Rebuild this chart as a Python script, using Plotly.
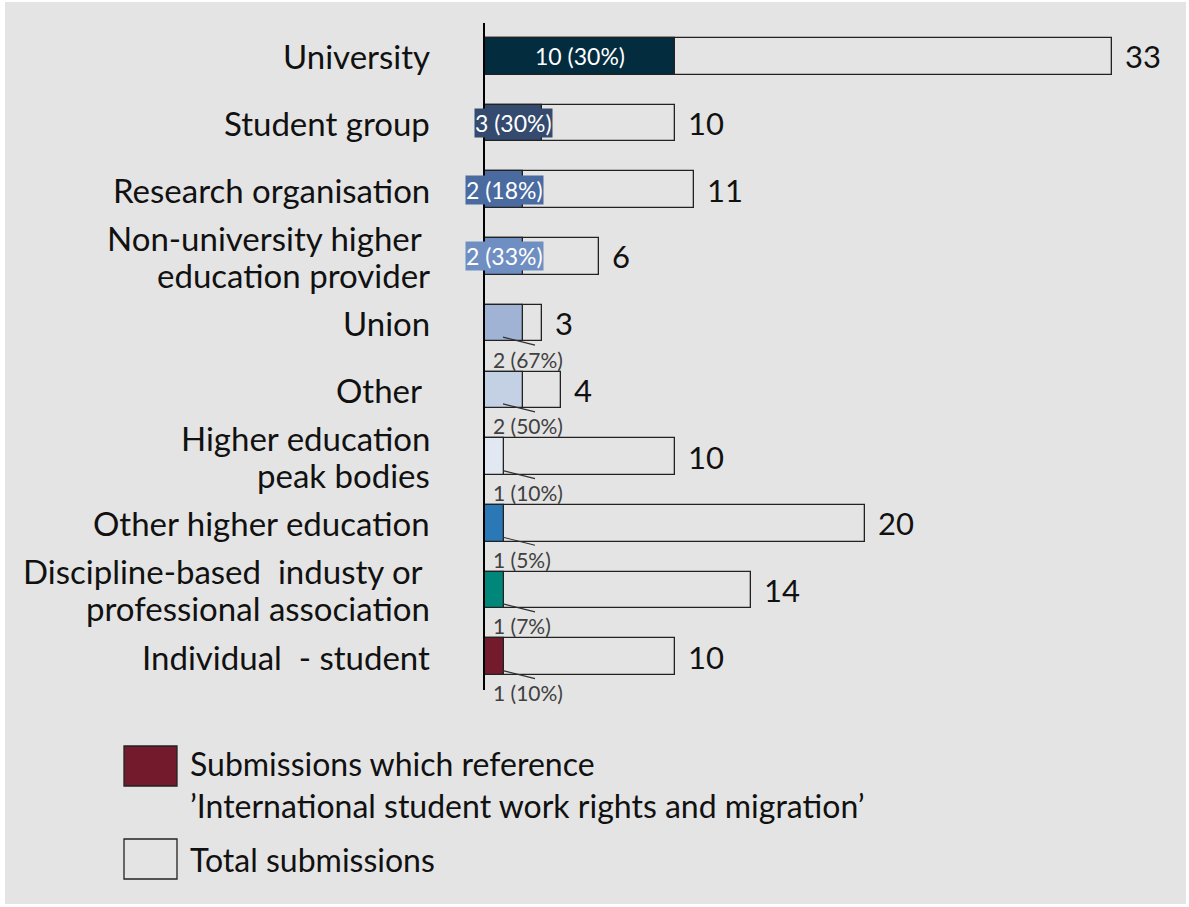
import plotly.graph_objects as go

# ---- data -------------------------------------------------------------
categories = [
    "University",
    "Student group",
    "Research organisation",
    "Non-university higher <br>education provider",
    "Union",
    "Other ",
    "Higher education<br>peak bodies",
    "Other higher education",
    "Discipline-based  industy or <br>professional association",
    "Individual  - student",
]
total_submissions = [33, 10, 11, 6, 3, 4, 10, 20, 14, 10]
work_rights_submissions = [10, 3, 2, 2, 2, 2, 1, 1, 1, 1]
bar_colors = [
    "#032c3f", "#344a6e", "#4a6ba0", "#6f8fc2", "#a0b3d4",
    "#c4d0e4", "#e2e8f2", "#2a78b5", "#01877a", "#741a2d",
]
# label style per category: "inside" (in the bar), "box" (filled tag), "below"
label_style = ["inside", "box", "box", "box", "below",
               "below", "below", "below", "below", "below"]

legend_labels = [
    "Submissions which reference",
    "\u2019International student work rights and migration\u2019",
    "Total submissions",
]

# ---- layout constants (pixels) ------------------------------------------
W, H = 1189, 907
M_L, M_R, M_T, M_B = 485, 4, 23, 217
PLOT_W = W - M_L - M_R
PLOT_H = H - M_T - M_B
PX_PER_UNIT = 19.0
LINE_GAP = 37          # px between lines of a wrapped label
BG = "#e4e4e4"
FONT = "Lato, 'Open Sans', sans-serif"
TEXT_SIZE = 33


def px_x(px):
    return (px - M_L) / PLOT_W


def px_y(py):
    return (H - M_B - py) / PLOT_H


n = len(categories)
ypos = list(range(n))
row_px = PLOT_H / n

fig = go.Figure()

# total bars (outline only)
fig.add_trace(go.Bar(
    x=total_submissions, y=ypos, orientation="h", width=0.55,
    marker=dict(color=BG, line=dict(color="#222222", width=1.3)),
    showlegend=False, hoverinfo="x",
))
# submissions referencing work rights
fig.add_trace(go.Bar(
    x=work_rights_submissions, y=ypos, orientation="h", width=0.55,
    marker=dict(color=bar_colors, line=dict(color="#222222", width=1.3)),
    showlegend=False, hoverinfo="x",
))

annotations = []
shapes = []

# background panel with thin white frame
shapes.append(dict(type="rect", xref="paper", yref="paper", layer="below",
                   x0=px_x(5), x1=px_x(1186), y0=px_y(904), y1=px_y(2),
                   fillcolor=BG, line=dict(width=0)))

for i, (cat, tot, sub, col, style) in enumerate(
        zip(categories, total_submissions, work_rights_submissions,
            bar_colors, label_style)):
    # category label, one annotation per line for tight line spacing
    lines = cat.split("<br>")
    for k, line in enumerate(lines):
        offset = ((len(lines) - 1) / 2 - k) * LINE_GAP
        annotations.append(dict(
            x=0, xref="paper", xshift=-53, xanchor="right",
            y=i, yref="y", yshift=offset, yanchor="middle", text=line,
            showarrow=False,
            font=dict(family=FONT, size=TEXT_SIZE, color="#111111")))
    # total value
    annotations.append(dict(
        x=tot, xref="x", xshift=11, xanchor="left",
        y=i, yref="y", yanchor="middle", text=str(tot),
        showarrow=False, font=dict(family=FONT, size=31, color="#111111")))
    pct = round(100 * sub / tot)
    lab = f"{sub} ({pct}%)"
    if style == "inside":
        annotations.append(dict(
            x=sub / 2, xref="x", y=i, yref="y", text=lab, showarrow=False,
            font=dict(family=FONT, size=23, color="white")))
    elif style == "box":
        annotations.append(dict(
            x=sub / 2, xref="x", y=i, yref="y", text=lab, showarrow=False,
            bgcolor=col, borderpad=0,
            font=dict(family=FONT, size=23, color="white")))
    else:
        annotations.append(dict(
            x=0, xref="x", xshift=6, xanchor="left",
            y=i, yref="y", yshift=-36, yanchor="middle", text=lab,
            showarrow=False, font=dict(family=FONT, size=21, color="#404040")))
        shapes.append(dict(
            type="line", xref="x", yref="y",
            x0=18 / PX_PER_UNIT, x1=50 / PX_PER_UNIT,
            y0=i + 14 / row_px, y1=i + 22 / row_px,
            line=dict(color="#303030", width=1.2)))

# legend
legend_boxes = [(746, 786, bar_colors[-1]), (839, 879, BG)]
for y0, y1, c in legend_boxes:
    shapes.append(dict(type="rect", xref="paper", yref="paper",
                       x0=px_x(124), x1=px_x(177), y0=px_y(y1), y1=px_y(y0),
                       fillcolor=c, line=dict(color="#222222", width=1.3)))
for txt, cy in zip(legend_labels, [764, 805, 859]):
    annotations.append(dict(
        x=px_x(188), xref="paper", xanchor="left",
        y=px_y(cy), yref="paper", yanchor="middle", text=txt,
        showarrow=False,
        font=dict(family=FONT, size=32, color="#111111")))

fig.update_layout(
    width=W, height=H,
    margin=dict(l=M_L, r=M_R, t=M_T, b=M_B, pad=0),
    paper_bgcolor="white", plot_bgcolor="rgba(0,0,0,0)",
    barmode="overlay", bargap=0,
    xaxis=dict(range=[0, PLOT_W / PX_PER_UNIT], visible=False, fixedrange=True),
    yaxis=dict(range=[n - 0.5, -0.5], showticklabels=False, ticks="",
               showgrid=False, zeroline=False, showline=True,
               linecolor="#000000", linewidth=2, fixedrange=True),
    annotations=annotations, shapes=shapes,
    showlegend=False,
)

fig.write_html("out.html")
